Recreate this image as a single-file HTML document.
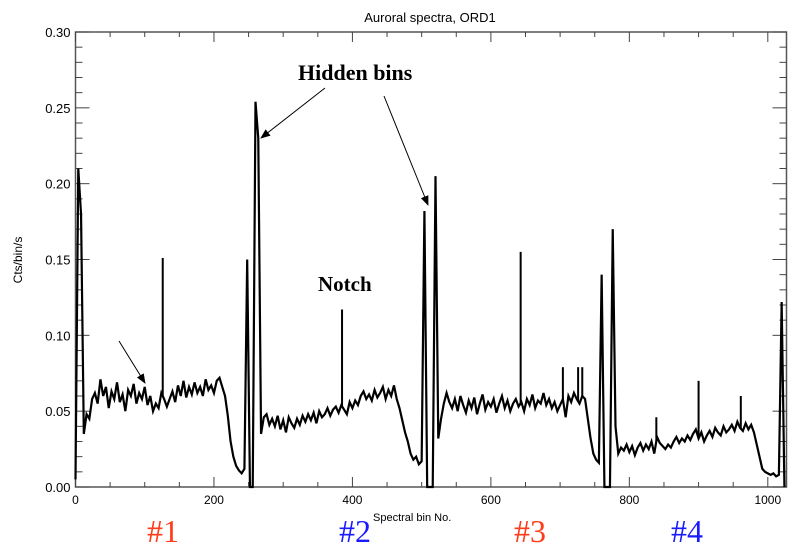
<!DOCTYPE html>
<html><head><meta charset="utf-8">
<style>
html,body{margin:0;padding:0;background:#fff;}
svg{display:block;font-family:"Liberation Sans",sans-serif;}
</style></head>
<body>
<svg id="chart" width="800" height="552" viewBox="0 0 800 552">
<defs><marker id="ah" markerWidth="10" markerHeight="8" refX="9" refY="4" orient="auto" markerUnits="userSpaceOnUse"><path d="M0,0 L10,4 L0,8 z" fill="#000"/></marker></defs>
<text x="430" y="22" text-anchor="middle" font-size="13">Auroral spectra, ORD1</text>
<g id="axes"></g>
<g id="series"></g>
<text x="298" y="80" font-family="Liberation Serif,serif" font-weight="bold" font-size="22">Hidden bins</text>
<line x1="325" y1="88" x2="261" y2="138" stroke="#000" stroke-width="1" marker-end="url(#ah)"/>
<line x1="384" y1="96" x2="428" y2="205" stroke="#000" stroke-width="1" marker-end="url(#ah)"/>
<text x="318" y="291" font-family="Liberation Serif,serif" font-weight="bold" font-size="21">Notch</text>
<line x1="119" y1="341" x2="145" y2="383" stroke="#000" stroke-width="1" marker-end="url(#ah)"/>
<text x="22" y="260" transform="rotate(-90 22 260)" text-anchor="middle" font-size="12">Cts/bin/s</text>
<text x="373" y="521" font-size="11">Spectral bin No.</text>
<text x="147" y="542" font-family="Liberation Serif,serif" font-size="32" fill="#ff3b1a">#1</text>
<text x="339" y="542" font-family="Liberation Serif,serif" font-size="32" fill="#1a1aff">#2</text>
<text x="514" y="542" font-family="Liberation Serif,serif" font-size="32" fill="#ff3b1a">#3</text>
<text x="671" y="542" font-family="Liberation Serif,serif" font-size="32" fill="#1a1aff">#4</text>
</svg>
<script>
const binStep = 4;
const counts = [0.005,0.21,0.18,0.035,0.048,0.045,0.058,0.062,0.055,0.071,0.060,0.066,0.052,0.063,0.058,0.069,0.056,0.061,0.050,0.064,0.060,0.068,0.055,0.062,0.058,0.066,0.054,0.060,0.050,0.055,0.052,0.062,0.058,0.053,0.058,0.063,0.056,0.067,0.060,0.070,0.059,0.066,0.061,0.069,0.062,0.066,0.060,0.071,0.064,0.067,0.062,0.070,0.072,0.066,0.060,0.047,0.030,0.020,0.014,0.011,0.009,0.012,0.150,0.000,0.000,0.254,0.230,0.035,0.046,0.048,0.041,0.045,0.040,0.047,0.038,0.044,0.036,0.046,0.042,0.039,0.045,0.041,0.047,0.043,0.048,0.044,0.049,0.042,0.050,0.046,0.048,0.052,0.047,0.051,0.053,0.049,0.054,0.051,0.048,0.056,0.052,0.057,0.054,0.060,0.063,0.058,0.061,0.057,0.064,0.059,0.062,0.066,0.058,0.064,0.060,0.067,0.058,0.052,0.044,0.036,0.030,0.022,0.018,0.020,0.015,0.017,0.182,0.000,0.000,0.000,0.205,0.032,0.045,0.055,0.062,0.056,0.052,0.058,0.050,0.060,0.054,0.049,0.057,0.052,0.059,0.048,0.055,0.061,0.051,0.056,0.053,0.058,0.049,0.055,0.060,0.052,0.057,0.050,0.055,0.058,0.053,0.056,0.050,0.058,0.054,0.061,0.052,0.057,0.055,0.062,0.054,0.058,0.052,0.056,0.050,0.054,0.058,0.046,0.060,0.056,0.062,0.058,0.055,0.060,0.058,0.045,0.032,0.022,0.018,0.016,0.140,0.000,0.000,0.000,0.170,0.040,0.022,0.026,0.024,0.028,0.023,0.027,0.021,0.026,0.029,0.024,0.028,0.025,0.030,0.022,0.033,0.029,0.027,0.025,0.028,0.026,0.030,0.033,0.029,0.032,0.030,0.034,0.031,0.035,0.038,0.032,0.036,0.030,0.034,0.037,0.033,0.039,0.036,0.034,0.040,0.036,0.038,0.041,0.037,0.043,0.039,0.037,0.042,0.038,0.041,0.036,0.028,0.020,0.012,0.010,0.009,0.008,0.009,0.007,0.008,0.122,0.000];
const spikeBins = [126,385,643,900,961,704,726,732,839];
const spikeValues = [0.151,0.117,0.155,0.070,0.060,0.079,0.079,0.079,0.046];
const xTicks = [0,200,400,600,800,1000];
const yTicks = [0.00,0.05,0.10,0.15,0.20,0.25,0.30];

const NS = "http://www.w3.org/2000/svg";
const X0 = 75.5, XMAX = 1027, PLOTW = 711, Y0 = 487, YTOP = 32;
function xs(b){ return X0 + b / XMAX * PLOTW; }
function ys(v){ return Y0 - v / 0.30 * (Y0 - YTOP); }
const axes = document.getElementById('axes');
const series = document.getElementById('series');
function mk(tag, attrs, parent){ const e=document.createElementNS(NS,tag); for(const k in attrs) e.setAttribute(k,attrs[k]); parent.appendChild(e); return e; }

const frame = mk('rect',{x:X0,y:YTOP,width:PLOTW,height:Y0-YTOP,fill:'none',stroke:'#555','stroke-width':1.5},axes);



for(let b=0;b<=1000;b+=50){
  const major = b%200===0; const L = major?10:5;
  const t1 = mk('line',{x1:xs(b),x2:xs(b),y1:Y0,y2:Y0-L,stroke:'#444','stroke-width':1},axes);
  
  
  const t2 = mk('line',{x1:xs(b),x2:xs(b),y1:YTOP,y2:YTOP+L,stroke:'#444','stroke-width':1},axes);
  
  
}
xTicks.forEach(b=>{
  const t = mk('text',{x:xs(b),y:Y0+17,'text-anchor':'middle','font-size':12},axes);
  t.textContent = b;
  
  
});
for(let i=0;i<=30;i++){
  const v=i/100; const major=i%5===0; const L=major?14:7;
  const t1 = mk('line',{x1:X0,x2:X0+L,y1:ys(v),y2:ys(v),stroke:'#444','stroke-width':1},axes);
  
  
  const t2 = mk('line',{x1:X0+PLOTW,x2:X0+PLOTW-L,y1:ys(v),y2:ys(v),stroke:'#444','stroke-width':1},axes);
  
  
}
yTicks.forEach(v=>{
  const t = mk('text',{x:X0-5,y:ys(v)+5,'text-anchor':'end','font-size':13},axes);
  t.textContent = v.toFixed(2);
  
  
});

let d='';
counts.forEach((v,i)=>{ d += (i?'L':'M') + xs(i*binStep).toFixed(2)+','+ys(v).toFixed(2); });
const line = mk('path',{d:d,fill:'none',stroke:'#000','stroke-width':2.2,'stroke-linejoin':'miter'},series);



function baseAt(b){ const i=Math.min(Math.floor(b/binStep),counts.length-2); const f=(b-i*binStep)/binStep; return counts[i]*(1-f)+counts[i+1]*f; }
spikeBins.forEach((b,k)=>{
  const s = mk('line',{x1:xs(b),x2:xs(b),y1:ys(baseAt(b)),y2:ys(spikeValues[k]),stroke:'#000','stroke-width':2},series);
  
  
});
</script>
</body></html>
